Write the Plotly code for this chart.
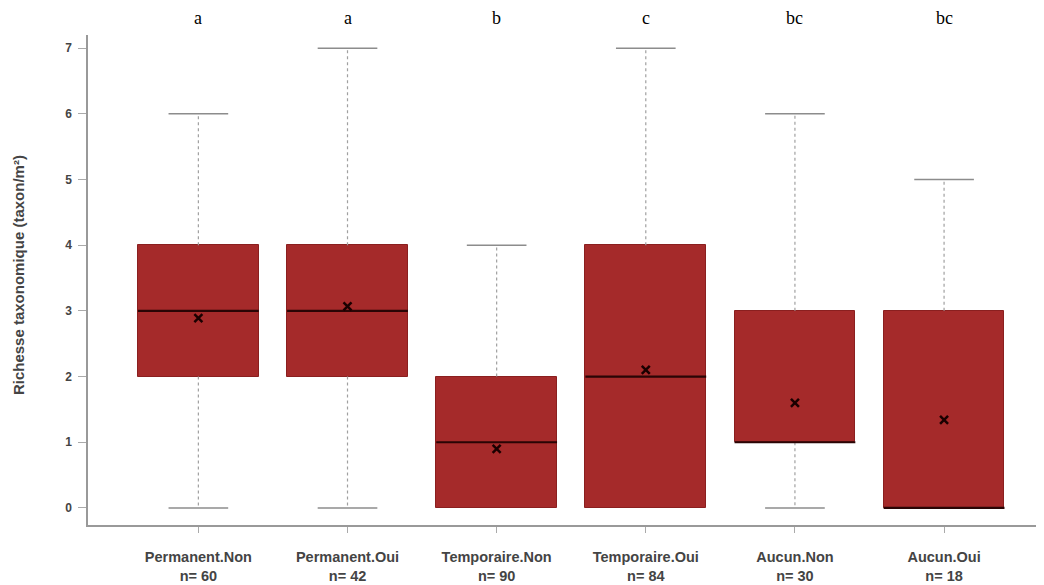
import plotly.graph_objects as go

categories = ["Permanent.Non", "Permanent.Oui", "Temporaire.Non", "Temporaire.Oui", "Aucun.Non", "Aucun.Oui"]
counts = [60, 42, 90, 84, 30, 18]
mins = [0, 0, 0, 0, 0, 0]
q1s = [2, 2, 0, 0, 1, 0]
medians = [3, 3, 1, 2, 1, 0]
q3s = [4, 4, 2, 4, 3, 3]
maxs = [6, 7, 4, 7, 6, 5]
means = [2.89, 3.07, 0.9, 2.1, 1.6, 1.34]
letters = ["a", "a", "b", "c", "bc", "bc"]
y_title = "Richesse taxonomique (taxon/m²)"

BOX_W = 0.81
CAP_W = 0.4
fill = "#a52a2a"

xs = list(range(len(categories)))
fig = go.Figure()

# boxes
fig.add_trace(go.Bar(x=xs, y=[q3 - q1 for q1, q3 in zip(q1s, q3s)], base=q1s, width=BOX_W,
                     marker=dict(color=fill, line=dict(color="#8a1f1f", width=1)),
                     showlegend=False, hoverinfo="skip"))

# whiskers (dotted)
wx, wy = [], []
for i in xs:
    if maxs[i] > q3s[i]:
        wx += [i, i, None]; wy += [q3s[i], maxs[i], None]
    if mins[i] < q1s[i]:
        wx += [i, i, None]; wy += [q1s[i], mins[i], None]
fig.add_trace(go.Scatter(x=wx, y=wy, mode="lines", line=dict(color="#a0a0a0", width=1.2, dash="dot"),
                         showlegend=False, hoverinfo="skip"))

# caps
cx, cy = [], []
for i in xs:
    if maxs[i] > q3s[i]:
        cx += [i - CAP_W / 2, i + CAP_W / 2, None]; cy += [maxs[i], maxs[i], None]
    if mins[i] < q1s[i]:
        cx += [i - CAP_W / 2, i + CAP_W / 2, None]; cy += [mins[i], mins[i], None]
fig.add_trace(go.Scatter(x=cx, y=cy, mode="lines", line=dict(color="#8c8c8c", width=1.5),
                         showlegend=False, hoverinfo="skip"))

# medians
mx, my = [], []
for i in xs:
    mx += [i - BOX_W / 2, i + BOX_W / 2, None]; my += [medians[i], medians[i], None]
fig.add_trace(go.Scatter(x=mx, y=my, mode="lines", line=dict(color="#2a0505", width=2.2),
                         showlegend=False, hoverinfo="skip"))

# means
fig.add_trace(go.Scatter(x=xs, y=means, mode="markers",
                         marker=dict(symbol="x-thin", size=8, line=dict(color="#1a0000", width=2.5)),
                         showlegend=False, hoverinfo="skip"))

# letters
for i in xs:
    fig.add_annotation(x=i, y=1, yref="paper", yshift=5, text=letters[i], showarrow=False,
                       font=dict(family="Liberation Serif, Times New Roman, serif", size=18, color="black"),
                       yanchor="bottom")

# y-axis title
fig.add_annotation(x=0, xref="paper", xshift=-70, y=0.51, yref="paper", text=f"<b>{y_title}</b>",
                   textangle=-90, showarrow=False, xanchor="center", yanchor="middle",
                   font=dict(size=15, color="#444444"))

ticktext = [f"<b>{c}</b><br><b>n= {n}</b>" for c, n in zip(categories, counts)]

fig.update_layout(
    width=1044, height=585,
    margin=dict(l=80, r=8, t=27, b=68),
    plot_bgcolor="white", paper_bgcolor="white",
    bargap=0,
    font=dict(family="Liberation Sans, Arial, sans-serif", color="#444444", size=11),
    xaxis=dict(range=[-0.74, 5.67], tickvals=xs, ticktext=ticktext, showgrid=False, zeroline=False,
               automargin=False,
               showline=True, linecolor="#999999", linewidth=1.5, ticks="outside", ticklen=6,
               tickcolor="#aaaaaa", tickfont=dict(size=14.5, color="#444444"), ticklabelstandoff=12),
    yaxis=dict(range=[-0.26, 7.2], tickvals=[0, 1, 2, 3, 4, 5, 6, 7],
               ticktext=[f"<b>{v}</b>" for v in range(8)], showgrid=False, zeroline=False,
               automargin=False,
               showline=True, linecolor="#999999", linewidth=1.5, ticks="outside", ticklen=8,
               tickcolor="#aaaaaa", tickfont=dict(size=12, color="#444444"), ticklabelstandoff=4),
)

fig.write_html("out.html")
